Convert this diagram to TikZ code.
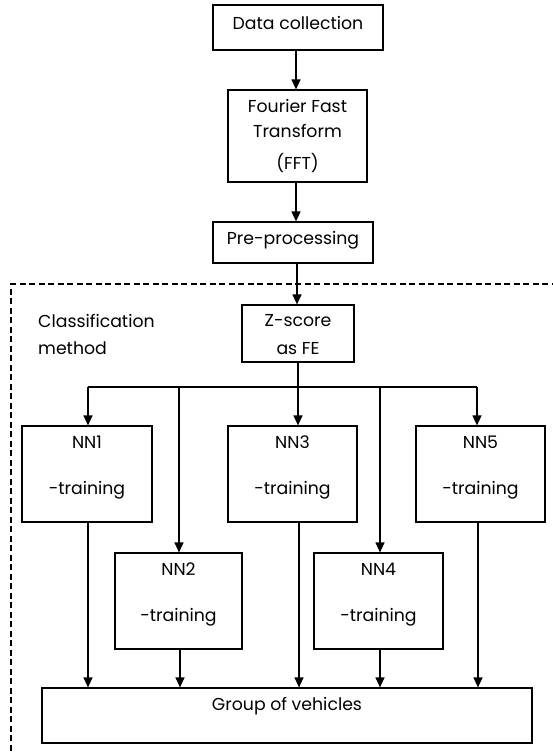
\documentclass[tikz,border=0pt]{standalone}
\usepackage{fontspec}
\setmainfont{Poppins}
\usetikzlibrary{arrows.meta}
\begin{document}
\begin{tikzpicture}[x=1pt,y=-1pt,
  box/.style={draw,line width=1.2pt,inner sep=0pt,rectangle},
  txt/.style={inner sep=0pt,font=\fontsize{17.3}{20}\selectfont,text height=0.72em,text depth=0.2em,yshift=-2.5pt},
  arr/.style={line width=1.2pt,-{Triangle[length=10pt,width=9pt]}},
  ln/.style={line width=1.2pt},
  dashbox/.style={line width=1.1pt,dash pattern=on 6pt off 3.5pt}]
\useasboundingbox (0,0) rectangle (553,754);
% top chain
\node[box,minimum width=170pt,minimum height=45pt] (dc) at (298,27.5) {};
\node[txt] (dct) at (298,24) {Data collection};
\node[box,minimum width=139pt,minimum height=92pt] (fft) at (297.5,136) {};
\node[txt] (fft1) at (297.5,107) {Fourier Fast};
\node[txt] (fft2) at (297.5,132) {Transform};
\node[txt] (fft3) at (297.5,164) {(FFT)};
\node[box,minimum width=160pt,minimum height=41pt] (pre) at (293,242.5) {};
\node[txt] (pret) at (293,239) {Pre-processing};
% dashed region
\coordinate (dA) at (11,760);
\coordinate (dB) at (11,284);
\coordinate (dC) at (560,284);
\draw[dashbox] (dA) -- (dB) -- (dC);
\node[txt,anchor=west] (cl1) at (38,322) {Classification};
\node[txt,anchor=west] (cl2) at (38,349) {method};
% z-score
\node[box,minimum width=112pt,minimum height=57pt] (z) at (298,333.5) {};
\node[txt] (z1) at (298,321) {Z-score};
\node[txt] (z2) at (298,349) {as FE};
% NN boxes
\node[box,minimum width=130pt,minimum height=96pt] (nn1) at (87,474) {};
\node[box,minimum width=129pt,minimum height=96pt] (nn3) at (292.5,474) {};
\node[box,minimum width=129pt,minimum height=96pt] (nn5) at (480.5,474) {};
\node[box,minimum width=127pt,minimum height=96pt] (nn2) at (178.5,601) {};
\node[box,minimum width=129pt,minimum height=96pt] (nn4) at (378.5,601) {};
\foreach \n/\lab in {nn1/NN1,nn2/NN2,nn3/NN3,nn4/NN4,nn5/NN5}{
  \node[txt] (\n a) at ([yshift=-18pt]\n.north) {\lab};
  \node[txt] (\n b) at ([yshift=-64pt]\n.north) {-training};
}
% group
\node[box,minimum width=490pt,minimum height=55pt] (grp) at (287,715.5) {};
\node[txt] (grpt) at (287,705) {Group of vehicles};
% connectors
\draw[arr] (dc.south -| 296,0) -- (fft.north -| 296,0);
\draw[arr] (fft.south -| 296,0) -- (pre.north -| 296,0);
\draw[arr] (pre.south -| 297,0) -- (z.north -| 297,0);
\coordinate (hl) at (88,387);
\coordinate (hr) at (477,387);
\draw[ln] (z.south) -- (z.south |- hl);
\draw[ln] (hl) -- (hr);
\draw[arr] (hl) -- (nn1.north -| hl);
\draw[arr] (179,387) -- (nn2.north -| 179,0);
\draw[arr] (298,387) -- (nn3.north -| 298,0);
\draw[arr] (380,387) -- (nn4.north -| 380,0);
\draw[arr] (hr) -- (nn5.north -| hr);
\draw[arr] (nn1.south -| 88,0) -- (grp.north -| 88,0);
\draw[arr] (nn2.south -| 180,0) -- (grp.north -| 180,0);
\draw[arr] (nn3.south -| 299,0) -- (grp.north -| 299,0);
\draw[arr] (nn4.south -| 380,0) -- (grp.north -| 380,0);
\draw[arr] (nn5.south -| 478,0) -- (grp.north -| 478,0);
\end{tikzpicture}
\end{document}
